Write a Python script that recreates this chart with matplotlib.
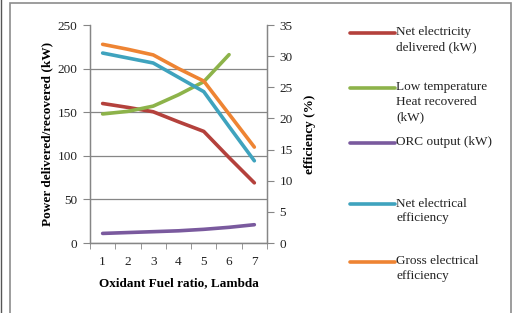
import matplotlib.pyplot as plt
from matplotlib.lines import Line2D
from matplotlib.patches import Rectangle
import numpy as np

plt.rcParams['font.family'] = ['Liberation Serif', 'DejaVu Serif']

# dados
lambdas = [1, 2, 3, 4, 5, 6, 7]
net_electricity = [160, 155.5, 150.5, 139, 128, 98, 69]
low_temp_heat = [148, 151, 157, 170, 185, 216, None]
orc_output = [11, 12, 13, 14, 15.7, 18, 21]
net_efficiency = [30.5, 29.7, 28.9, 26.6, 24.3, 18.7, 13.2]
gross_efficiency = [31.9, 31.1, 30.2, 28.0, 26.0, 20.7, 15.4]

nomes = ['Net electricity\ndelivered (kW)',
         'Low temperature\nHeat recovered\n(kW)',
         'ORC output (kW)',
         'Net electrical\nefficiency',
         'Gross electrical\nefficiency']
cores = ['#B4413C', '#8DB34A', '#7A5A9E', '#3FA3BE', '#EE8433']
cinza = '#868686'
fs = 9.5


def __plotar(ax, valores, cor):
    x = np.array(lambdas, dtype=float)
    y = np.array([np.nan if v is None else v for v in valores], dtype=float)
    ax.plot(x, y, color=cor, lw=2.6, solid_capstyle='round', solid_joinstyle='round')


fig = plt.figure(figsize=(5.16, 3.13), dpi=100)
ax = fig.add_axes([0.1744, 0.2236, 0.343, 0.6965])
ax2 = ax.twinx()

__plotar(ax, net_electricity, cores[0])
__plotar(ax, low_temp_heat, cores[1])
__plotar(ax, orc_output, cores[2])
__plotar(ax2, net_efficiency, cores[3])
__plotar(ax2, gross_efficiency, cores[4])

ax.set_xlim(0.5, 7.5)
ax.set_ylim(0, 250)
ax2.set_ylim(0, 35)
ax.set_yticks(np.arange(0, 251, 50))
ax2.set_yticks(np.arange(0, 36, 5))
ax.set_xticks(lambdas)
ax.set_xticks(np.arange(0.5, 7.6, 1), minor=True)
ax.tick_params(axis='x', which='major', length=0, pad=9)
ax.tick_params(axis='x', which='minor', length=4, color=cinza)
ax.tick_params(axis='y', length=5, color=cinza, pad=4)
ax2.tick_params(axis='y', length=5, color=cinza, pad=4)
for a in (ax, ax2):
    a.tick_params(labelsize=fs, labelcolor='#222222')
    a.spines['top'].set_visible(False)
    for s in ('left', 'right', 'bottom'):
        a.spines[s].set_color(cinza)
        a.spines[s].set_linewidth(0.9)

ax.yaxis.grid(True, color=cinza, lw=0.9)
ax.get_ygridlines()[-1].set_visible(False)
ax.set_axisbelow(True)

ax.set_xlabel('Oxidant Fuel ratio, Lambda', fontsize=fs, fontweight='bold', labelpad=7)
ax.set_ylabel('Power delivered/recovered (kW)', fontsize=fs, fontweight='bold', labelpad=3)
ax2.set_ylabel('efficiency (%)', fontsize=fs, fontweight='bold', labelpad=8)

# legenda manual
ys = [0.8955, 0.7188, 0.543, 0.348, 0.163]
for nome, cor, y in zip(nomes, cores, ys):
    fig.add_artist(Line2D([0.678, 0.765], [y, y], color=cor, lw=2.6,
                          solid_capstyle='round'))
    fig.text(0.768, y + 0.021, nome, fontsize=fs, va='top', ha='left',
             linespacing=1.32, color='#222222')

# moldura
fig.add_artist(Rectangle((0.0194, -0.02), 0.971, 1.01, transform=fig.transFigure,
                         fill=False, edgecolor='#8c8c8c', lw=1.2))
fig.add_artist(Line2D([0.002, 0.002], [0, 1], color='#555555', lw=1.0))

fig.savefig('out.png', dpi=100)
plt.close()
